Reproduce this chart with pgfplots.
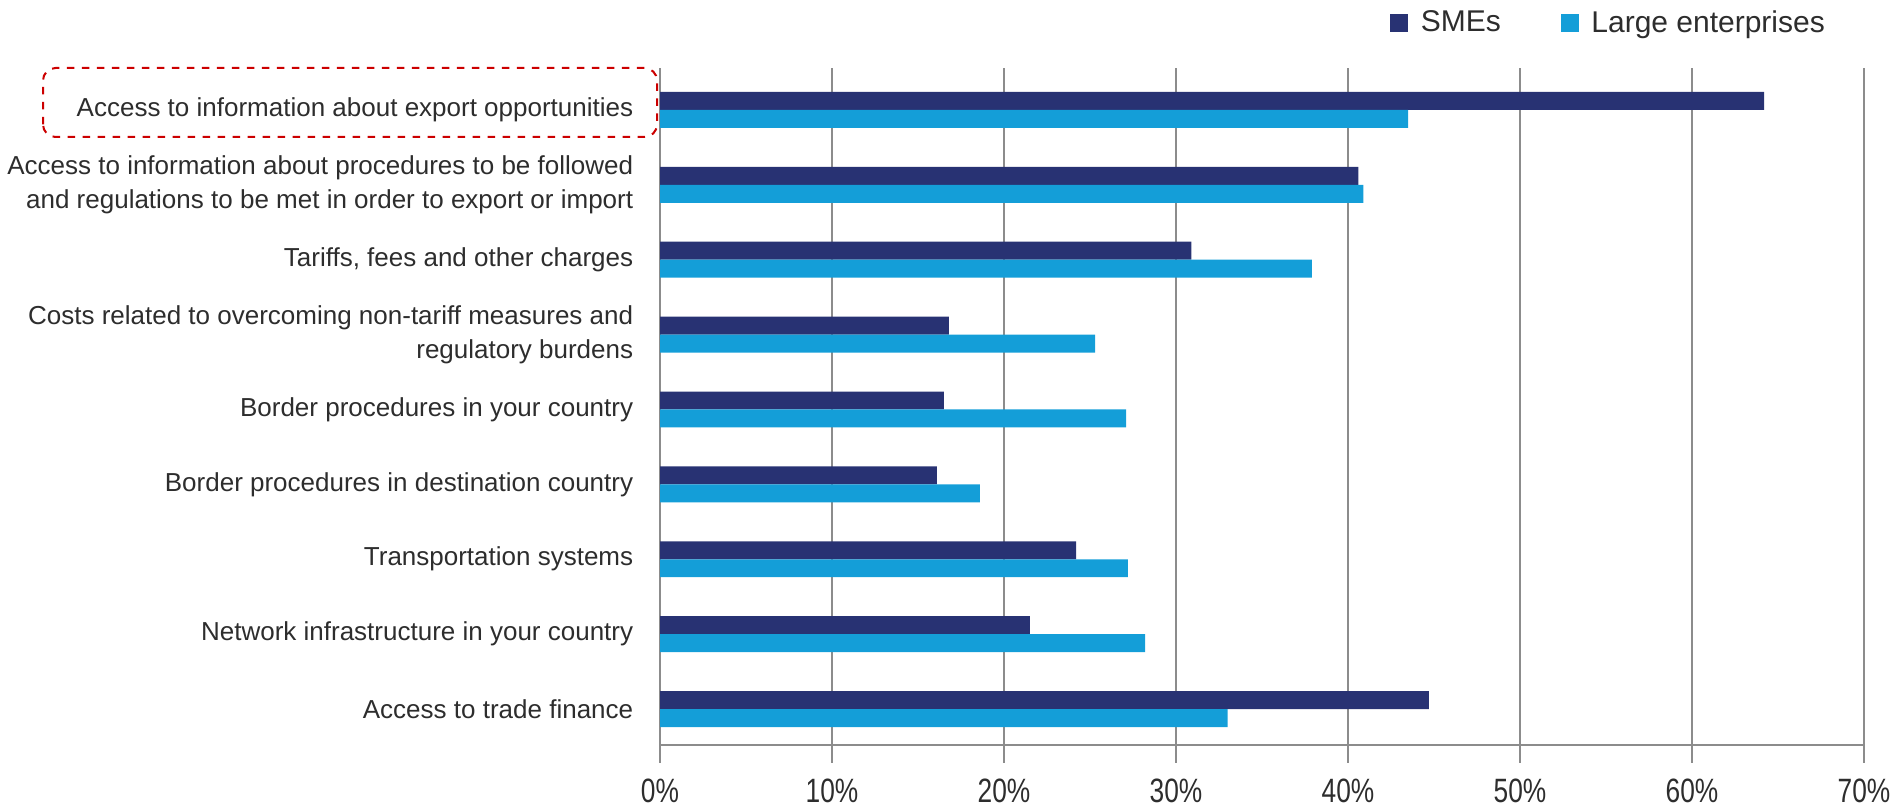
\documentclass[border=0pt]{standalone}
\usepackage{pgfplots}
\pgfplotsset{compat=1.18}
\usepackage{graphicx}
\usepackage{fontspec}
\setmainfont{Liberation Sans}
\definecolor{sme}{RGB}{40,50,115}
\definecolor{large}{RGB}{20,158,216}
\definecolor{gridg}{RGB}{140,140,140}
\definecolor{txt}{RGB}{45,45,45}
\newcommand\tl[1]{\scalebox{0.78}[1]{#1\%}}
\begin{document}
\begin{tikzpicture}
\begin{axis}[
  at={(264pt,25.6pt)}, anchor=south west,
  scale only axis, width=481.6pt, height=270.8pt,
  xbar, bar width=0.24,
  xmin=0, xmax=70, ymin=-0.48, ymax=8.56,
  axis x line=bottom, axis y line=left,
  axis line style={-, draw=gridg, line width=1pt},
  xmajorgrids, grid style={draw=gridg, line width=0.8pt},
  xtick={0,10,...,70},
  xticklabels={\tl{0},\tl{10},\tl{20},\tl{30},\tl{40},\tl{50},\tl{60},\tl{70}},
  xtick style={draw=gridg, line width=0.8pt},
  tick align=outside, major tick length=7.2pt,
  xticklabel style={font=\fontsize{13.5}{15}\selectfont, text=txt, yshift=-3pt},
  ytick={0,...,8},
  ytick style={draw=none},
  yticklabels={Access to trade finance,
    Network infrastructure in your country,
    Transportation systems,
    Border procedures in destination country,
    Border procedures in your country,
    {Costs related to overcoming non-tariff measures and\\regulatory burdens},
    {Tariffs, fees and other charges},
    {Access to information about procedures to be followed\\and regulations to be met in order to export or import},
    Access to information about export opportunities},
  yticklabel style={align=right, font=\fontsize{10.4}{13.6}\selectfont, text=txt, xshift=0pt},
  legend style={draw=none, fill=none, at={(0.600,1.066)}, anchor=west,
    font=\fontsize{12}{14}\selectfont, text=txt,
    legend columns=-1,
    /tikz/every odd column/.append style={column sep=3pt},
    /tikz/every even column/.append style={column sep=22pt}},
  legend image code/.code={\fill[#1] (0pt,-3.6pt) rectangle (7.2pt,3.6pt);},
]
\addplot[fill=sme, draw=none, bar shift=0.12] coordinates {
 (44.7,0) (21.5,1) (24.2,2) (16.1,3) (16.5,4) (16.8,5) (30.9,6) (40.6,7) (64.2,8)};
\addlegendentry{SMEs}
\addplot[fill=large, draw=none, bar shift=-0.12] coordinates {
 (33.0,0) (28.2,1) (27.2,2) (18.6,3) (27.1,4) (25.3,5) (37.9,6) (40.9,7) (43.5,8)};
\addlegendentry{Large enterprises}
\end{axis}
\draw[red!80!black, dashed, rounded corners=5pt, line width=0.8pt] (17.2pt,268.8pt) rectangle (262.8pt,296.4pt);
\pgfresetboundingbox
\path[use as bounding box] (0,0) rectangle (760.4pt,323.6pt);
\end{tikzpicture}
\end{document}
